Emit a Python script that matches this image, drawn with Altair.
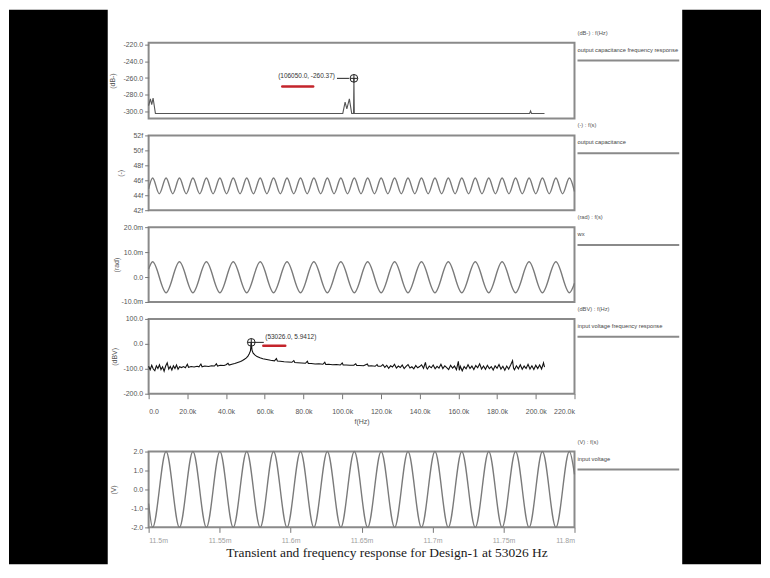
import altair as alt
import pandas as pd

FONT = "Liberation Sans, Arial, sans-serif"
SERIF = "Liberation Serif, Times New Roman, serif"
W = 427
FRAME = "#8a8a8a"

# ---------------- text content ----------------
units = ["(dB-) : f(Hz)", "(-) : f(s)", "(rad) : f(s)", "(dBV) : f(Hz)", "(V) : f(s)"]
names = ["output capacitance frequency response", "output capacitance", "wx",
         "input voltage frequency response", "input voltage"]
y_titles = ["(dB-)", "(-)", "(rad)", "(dBV)", "(V)"]
caption = ["Transient and frequency response for Design-1 at 53026 Hz"]

# ---------------- ticks ----------------
freq_ticks = [0, 20, 40, 60, 80, 100, 120, 140, 160, 180, 200, 220]
freq_labels = ["0.0", "20.0k", "40.0k", "60.0k", "80.0k", "100.0k", "120.0k",
               "140.0k", "160.0k", "180.0k", "200.0k", "220.0k"]
time_ticks = [0, 50, 100, 150, 200, 250, 300]
time_labels = ["11.5m", "11.55m", "11.6m", "11.65m", "11.7m", "11.75m", "11.8m"]
p1_ticks = [-300, -280, -260, -240, -220]
p1_labels = ["-300.0", "-280.0", "-260.0", "-240.0", "-220.0"]
p2_ticks = [42, 44, 46, 48, 50, 52]
p2_labels = ["42f", "44f", "46f", "48f", "50f", "52f"]
p3_ticks = [-10, 0, 10, 20]
p3_labels = ["-10.0m", "0.0", "10.0m", "20.0m"]
p4_ticks = [-200, -100, 0, 100]
p4_labels = ["-200.0", "-100.0", "0.0", "100.0"]
p5_ticks = [-2, -1, 0, 1, 2]
p5_labels = ["-2.0", "-1.0", "0.0", "1.0", "2.0"]

# ---------------- panel 1: output capacitance frequency response (kHz, dB) ----------------
cfr_f = [0, 0.9, 1.6, 2.3, 3.5, 100.3, 101.5, 102.4, 103.7, 104.9, 105.85, 106.05, 106.25,
         196.8, 197.3, 197.8, 204.5]
cfr_db = [-293, -285, -292, -284, -302.5, -302.5, -289, -297, -285, -302.5, -302.5, -260.37, -302.5,
          -302.5, -299.5, -302.5, -302.5]

# ---------------- panel 2: output capacitance (us offset, fF) ----------------
cap_t = [0, 2.8, 7.5, 12.3, 17.0, 21.7, 26.5, 31.2, 36.0, 40.7, 45.4,
         50.2, 54.9, 59.6, 64.4, 69.1, 73.8, 78.6, 83.3, 88.0, 92.8,
         97.5, 102.2, 107.0, 111.7, 116.4, 121.2, 125.9, 130.6, 135.4, 140.1,
         144.9, 149.6, 154.3, 159.1, 163.8, 168.5, 173.3, 178.0, 182.7, 187.5,
         192.2, 196.9, 201.7, 206.4, 211.1, 215.9, 220.6, 225.4, 230.1, 234.8,
         239.6, 244.3, 249.0, 253.8, 258.5, 263.2, 268.0, 272.7, 277.4, 282.2,
         286.9, 291.6, 296.4, 300]
cap_v = [44.84, 46.3, 44.2, 46.3, 44.2, 46.3, 44.2, 46.3, 44.2, 46.3, 44.2,
         46.3, 44.2, 46.3, 44.2, 46.3, 44.2, 46.3, 44.2, 46.3, 44.2,
         46.3, 44.2, 46.3, 44.2, 46.3, 44.2, 46.3, 44.2, 46.3, 44.2,
         46.3, 44.2, 46.3, 44.2, 46.3, 44.2, 46.3, 44.2, 46.3, 44.2,
         46.3, 44.2, 46.3, 44.2, 46.3, 44.2, 46.3, 44.2, 46.3, 44.2,
         46.3, 44.2, 46.3, 44.2, 46.3, 44.2, 46.3, 44.2, 46.3, 44.2,
         46.3, 44.2, 46.3, 44.5]

# ---------------- panel 3: wx (us offset, mrad) ----------------
wx_t = [0, 2.8, 12.3, 21.7, 31.2, 40.7, 50.2, 59.6, 69.1, 78.6, 88.0,
        97.5, 107.0, 116.4, 125.9, 135.4, 144.9, 154.3, 163.8, 173.3, 182.7,
        192.2, 201.7, 211.1, 220.6, 230.1, 239.6, 249.0, 258.5, 268.0, 277.4,
        286.9, 296.4, 300]
wx_v = [3.2, 6.1, -6.3, 6.1, -6.3, 6.1, -6.3, 6.1, -6.3, 6.1, -6.3,
        6.1, -6.3, 6.1, -6.3, 6.1, -6.3, 6.1, -6.3, 6.1, -6.3,
        6.1, -6.3, 6.1, -6.3, 6.1, -6.3, 6.1, -6.3, 6.1, -6.3,
        6.1, -6.3, -2.5]

# ---------------- panel 4: input voltage frequency response (kHz, dBV) ----------------
spectrum = [
    (0, -90), (0.8, -104), (1.6, -86), (2.4, -101), (3.2, -108), (4.0, -88), (4.8, -99),
    (5.6, -84), (6.4, -103), (7.2, -92), (8.0, -110), (8.8, -89), (9.6, -76), (10.4, -101),
    (11.2, -91), (12.0, -105), (12.8, -88), (13.6, -99), (14.4, -85), (15.2, -102), (16.0, -92),
    (17.0, -95), (18.0, -91), (19.0, -96), (20.0, -82), (20.6, -94), (22.0, -91), (23.5, -93),
    (25.0, -90), (26.0, -92), (27.0, -81), (27.6, -92), (29.0, -89), (31.0, -91), (32.5, -88),
    (34.0, -89), (35.0, -80), (35.6, -89), (37.0, -86), (39.0, -87), (40.0, -84), (41.0, -78),
    (41.6, -85), (43.0, -82), (44.5, -79), (46.0, -75), (47.5, -71), (48.5, -67), (49.5, -62),
    (50.5, -56), (51.3, -49), (52.0, -40), (52.6, -28), (53.026, 5.94), (53.4, -25), (54.0, -37),
    (55.0, -45), (56.0, -51), (57.5, -56), (59.0, -60), (61.0, -63), (63.0, -66), (65.0, -68),
    (66.0, -59), (66.5, -69), (68.0, -70), (70.0, -72), (72.0, -73), (74.0, -74), (75.0, -67),
    (75.5, -75), (77.0, -76), (79.0, -77), (81.0, -78), (82.0, -70), (82.5, -79), (84.0, -79),
    (86.0, -81), (88.0, -80), (90.0, -82), (91.0, -74), (91.5, -83), (93.0, -82), (95.0, -84),
    (97.0, -83), (99.0, -85), (100.0, -77), (100.5, -85), (102.0, -85), (104.0, -86), (106.0, -86),
    (107.0, -80), (107.5, -87), (109.0, -87), (111.0, -88), (113.0, -81), (113.5, -89), (115.0, -88),
    (117.0, -90), (118.0, -83), (118.5, -90),
    (120, -90), (121, -83), (122, -94), (123, -86), (124, -98), (125, -88), (126, -93), (127, -82),
    (128, -97), (129, -89), (130, -95), (131, -85), (132, -99), (133, -90), (134, -83), (135, -97),
    (136, -92), (137, -100), (138, -87), (139, -96), (140, -91), (141, -84), (142, -98), (143, -74),
    (143.5, -95), (144, -101), (145, -89), (146, -96), (147, -85), (148, -100), (149, -90),
    (150, -97), (151, -82), (152, -99), (153, -88), (154, -95), (155, -103), (156, -86), (157, -97),
    (158, -89), (159, -104), (160, -70), (160.5, -106), (161, -90), (162, -108), (163, -91),
    (164, -100), (165, -84), (166, -99), (167, -89), (168, -103), (169, -87), (170, -96), (171, -80),
    (172, -101), (173, -89), (174, -102), (175, -86), (176, -99), (177, -91), (178, -105), (179, -88),
    (180, -98), (181, -83), (182, -101), (183, -90), (184, -106), (185, -89), (186, -101), (187, -85),
    (188, -68), (188.5, -97), (189, -104), (190, -88), (191, -100), (192, -84), (193, -102),
    (194, -89), (195, -99), (196, -82), (197, -101), (198, -88), (199, -103), (200, -86), (201, -99),
    (202, -85), (203, -101), (204, -76), (204.5, -93),
]
sp_f = [p[0] for p in spectrum]
sp_v = [p[1] for p in spectrum]

# ---------------- panel 5: input voltage (us offset, V) ----------------
vin_t = [0, 2.8, 12.3, 21.7, 31.2, 40.7, 50.2, 59.6, 69.1, 78.6, 88.0,
         97.5, 107.0, 116.4, 125.9, 135.4, 144.9, 154.3, 163.8, 173.3, 182.7,
         192.2, 201.7, 211.1, 220.6, 230.1, 239.6, 249.0, 258.5, 268.0, 277.4,
         286.9, 296.4, 300]
vin_v = [-0.74, -2.0, 2.0, -2.0, 2.0, -2.0, 2.0, -2.0, 2.0, -2.0, 2.0,
         -2.0, 2.0, -2.0, 2.0, -2.0, 2.0, -2.0, 2.0, -2.0, 2.0,
         -2.0, 2.0, -2.0, 2.0, -2.0, 2.0, -2.0, 2.0, -2.0, 2.0,
         -2.0, 2.0, 0.8]

# ---------------- annotations ----------------
mark1 = {"x": [106.05], "y": [-260.37], "t": ["(106050.0, -260.37)"]}
arrow1 = {"x": [97.3], "x2": [103.5], "y": [-260.37]}
mark4 = {"x": [53.026], "y": [5.9412], "t": ["(53026.0, 5.9412)"]}
arrow4 = {"x": [54.7], "x2": [59.5], "y": [5.9412]}


def label_expr(vals, labels):
    parts = [f"datum.value == {v} ? '{l}'" for v, l in zip(vals, labels)]
    return " : ".join(parts) + " : ''"


def y_axis(i, ticks, labels, height, title_x):
    return alt.Axis(values=ticks, labelExpr=label_expr(ticks, labels), title=y_titles[i],
                    titleX=title_x, titleY=height / 2, titleAngle=270, titleBaseline="middle",
                    titleAlign="center")


def legend_layers(i):
    df = pd.DataFrame({"u": [units[i]], "n": [names[i]]})
    u = alt.Chart(df).mark_text(align="left", baseline="middle", font=FONT, fontSize=5.8,
                                color="#555").encode(x=alt.value(430), y=alt.value(-10), text="u:N")
    n = alt.Chart(df).mark_text(align="left", baseline="middle", font=FONT, fontSize=5.8,
                                color="#444").encode(x=alt.value(430), y=alt.value(7), text="n:N")
    r = alt.Chart(df).mark_rule(color=FRAME, strokeWidth=2).encode(
        x=alt.value(430), x2=alt.value(532), y=alt.value(18))
    return [u, n, r]


def marker_layers(mk, ar, x_enc, y_enc, align, dx, dy):
    mdf = pd.DataFrame(mk)
    adf = pd.DataFrame(ar)
    circ = alt.Chart(mdf).mark_point(shape="circle", size=60, filled=False, color="#222",
                                     strokeWidth=1, opacity=1).encode(x=x_enc, y=y_enc)
    cross = alt.Chart(mdf).mark_point(shape="M-1,0L1,0M0,-1L0,1", size=60, filled=False,
                                      color="#222", strokeWidth=1, opacity=1).encode(x=x_enc, y=y_enc)
    txt = alt.Chart(mdf).mark_text(align=align, baseline="middle", dx=dx, dy=dy, font=FONT,
                                   fontSize=6.5, color="#333").encode(x=x_enc, y=y_enc, text="t:N")
    arr = alt.Chart(adf).mark_rule(color="#222", strokeWidth=1).encode(x=x_enc, x2="x2:Q", y=y_enc)
    return [circ, cross, txt, arr]


def red_mark(x1, x2, y):
    df = pd.DataFrame({"a": [0]})
    return alt.Chart(df).mark_rule(color="#c4242b", strokeWidth=2.5, strokeCap="round").encode(
        x=alt.value(x1), x2=alt.value(x2), y=alt.value(y))


# ---------------- panel 1 ----------------
H1 = 76
x1 = alt.X("x:Q", scale=alt.Scale(domain=[0, 220], nice=False, zero=False), axis=None)
y1 = alt.Y("y:Q", scale=alt.Scale(domain=[-308.5, -217.5], nice=False, zero=False),
           axis=y_axis(0, p1_ticks, p1_labels, H1, -36))
df1 = pd.DataFrame({"x": cfr_f, "y": cfr_db})
bdf = pd.DataFrame({"a": [0]})
border = [
    alt.Chart(bdf).mark_rect(color="black").encode(x=alt.value(-140), x2=alt.value(-41),
                                                   y=alt.value(-33), y2=alt.value(523)),
    alt.Chart(bdf).mark_rect(color="black").encode(x=alt.value(535), x2=alt.value(614),
                                                   y=alt.value(-33), y2=alt.value(523)),
]
line1 = alt.Chart(df1).mark_line(color="#555", strokeWidth=1.1).encode(x=x1, y=y1)
p1 = alt.layer(*border, line1, *marker_layers(mark1, arrow1, x1, y1, "right", -19, -2),
               red_mark(134, 165, 44), *legend_layers(0)).properties(width=W, height=H1)

# ---------------- panel 2 ----------------
H2 = 75
x2 = alt.X("x:Q", scale=alt.Scale(domain=[0, 300], nice=False, zero=False), axis=None)
y2 = alt.Y("y:Q", scale=alt.Scale(domain=[42, 52], nice=False, zero=False),
           axis=y_axis(1, p2_ticks, p2_labels, H2, -28))
df2 = pd.DataFrame({"x": cap_t, "y": cap_v})
line2 = alt.Chart(df2).mark_line(color="#7a7a7a", strokeWidth=1.4, interpolate="monotone").encode(x=x2, y=y2)
p2 = alt.layer(line2, *legend_layers(1)).properties(width=W, height=H2)

# ---------------- panel 3 ----------------
H3 = 75
y3 = alt.Y("y:Q", scale=alt.Scale(domain=[-10, 20], nice=False, zero=False),
           axis=y_axis(2, p3_ticks, p3_labels, H3, -32))
df3 = pd.DataFrame({"x": wx_t, "y": wx_v})
line3 = alt.Chart(df3).mark_line(color="#7a7a7a", strokeWidth=1.4, interpolate="monotone").encode(x=x2, y=y3)
p3 = alt.layer(line3, *legend_layers(2)).properties(width=W, height=H3)

# ---------------- panel 4 ----------------
H4 = 75
x4 = alt.X("x:Q", scale=alt.Scale(domain=[0, 220], nice=False, zero=False),
           axis=alt.Axis(values=freq_ticks, labelExpr=label_expr(freq_ticks, freq_labels),
                         title="f(Hz)", tickSize=5, labelPadding=9, titlePadding=3,
                         labelFontSize=7, titleFontSize=7))
y4 = alt.Y("y:Q", scale=alt.Scale(domain=[-200, 100], nice=False, zero=False),
           axis=y_axis(3, p4_ticks, p4_labels, H4, -34))
df4 = pd.DataFrame({"x": sp_f, "y": sp_v})
line4 = alt.Chart(df4).mark_line(color="#111", strokeWidth=1.1).encode(x=x4, y=y4)
p4 = alt.layer(line4, *marker_layers(mark4, arrow4, x4, y4, "left", 14, -5),
               red_mark(115, 137, 27), *legend_layers(3)).properties(width=W, height=H4)

# ---------------- spacer ----------------
spacer = alt.Chart(pd.DataFrame({"a": [0]})).mark_point(opacity=0).encode(
    x=alt.value(0), y=alt.value(0)).properties(width=W, height=24,
                                               view=alt.ViewBackground(strokeOpacity=0))

# ---------------- panel 5 ----------------
H5 = 76
x5 = alt.X("x:Q", scale=alt.Scale(domain=[0, 300], nice=False, zero=False),
           axis=alt.Axis(values=time_ticks, labelExpr=label_expr(time_ticks, time_labels),
                         title="", tickSize=5, labelPadding=4, labelColor="#a0a0a0",
                         labelFontSize=7))
y5 = alt.Y("y:Q", scale=alt.Scale(domain=[-2, 2], nice=False, zero=False),
           axis=y_axis(4, p5_ticks, p5_labels, H5, -35))
df5 = pd.DataFrame({"x": vin_t, "y": vin_v})
line5 = alt.Chart(df5).mark_line(color="#7a7a7a", strokeWidth=1.4, interpolate="monotone").encode(x=x5, y=y5)
cap = alt.Chart(pd.DataFrame({"c": caption})).mark_text(
    font=SERIF, fontSize=13.5, color="#1a1a1a", align="center", baseline="middle").encode(
    x=alt.value(239), y=alt.value(102), text="c:N")
p5 = alt.layer(line5, cap, *legend_layers(4)).properties(width=W, height=H5)

chart = alt.vconcat(p1, p2, p3, p4, spacer, p5, spacing=17, bounds="flush", padding=0).configure_view(
    stroke=FRAME, strokeWidth=2
).configure_axis(
    labelFont=FONT, titleFont=FONT, labelColor="#555", titleColor="#555", tickColor="#777",
    labelFontSize=7, titleFontSize=7, titleFontWeight="normal", grid=False, domain=False,
    tickSize=4, labelPadding=2
)

chart.save("out.html", embed_options={"renderer": "svg", "actions": False})
